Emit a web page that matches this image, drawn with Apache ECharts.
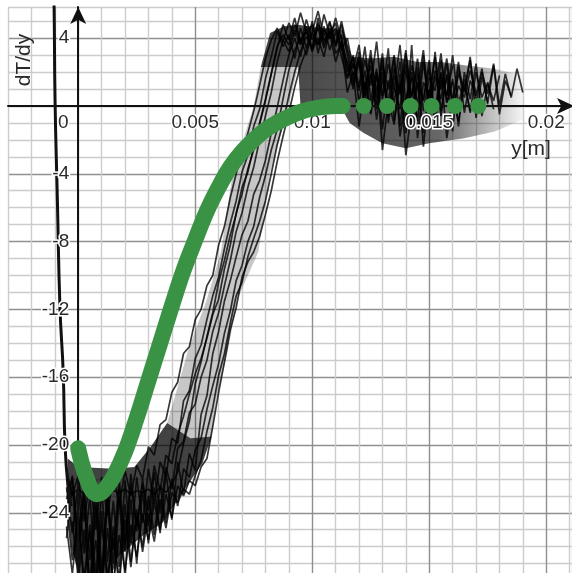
<!DOCTYPE html>
<html><head><meta charset="utf-8">
<script src="https://cdn.jsdelivr.net/npm/echarts@6/dist/echarts.min.js"></script>
<style>html,body{margin:0;padding:0;background:#fff}#c{width:572px;height:573px}</style>
</head><body><div id="c"></div><script>
// ---------- data ----------
const xTickLabels = [0, 0.005, 0.01, 0.015, 0.02];
const yTickLabels = [4, -4, -8, -12, -16, -20, -24];

// green model curve
const greenX = [0, 0.0002, 0.0004, 0.0006, 0.0008, 0.001, 0.0012, 0.0015, 0.002, 0.0025, 0.003, 0.0035, 0.004, 0.0045, 0.005, 0.0055, 0.006, 0.0065, 0.007, 0.0075, 0.008, 0.0085, 0.009, 0.0095, 0.01, 0.0105, 0.011, 0.0113];
const greenY = [-20.2, -21.3, -22.1, -22.7, -22.9, -22.8, -22.5, -21.9, -20.4, -18.4, -16.2, -14.0, -11.8, -9.7, -7.9, -6.2, -4.8, -3.6, -2.7, -2.0, -1.4, -0.98, -0.63, -0.35, -0.16, -0.05, 0, 0];
const dotX = [0.0122, 0.0132, 0.0142, 0.0151, 0.0161, 0.0171];
const dotY = [0, 0, 0, 0, 0, 0];

// steep black curve near the wall
const wallX = [-0.00106, -0.00103, -0.00099, -0.00089, -0.00078, -0.00064, -0.00056, -0.00042, -0.0003];
const wallY = [7, 5.84, 0.35, -5.55, -11.86, -15.75, -20.1, -22.65, -23.6];

// measured traces (sampled x grid)
const traceX = [-0.0005,-0.00025,0,0.00025,0.0005,0.00075,0.001,0.00125,0.0015,0.00175,0.002,0.00225,0.0025,0.00275,0.003,0.00325,0.0035,0.00375,0.004,0.00425,0.0045,0.00475,0.005,0.00525,0.0055,0.00575,0.006,0.00625,0.0065,0.00675,0.007,0.00725,0.0075,0.00775,0.008,0.00825,0.0085,0.00875,0.009,0.00925,0.0095,0.00975,0.01,0.01025,0.0105,0.01075,0.011,0.01125,0.0115,0.01175,0.012,0.01225,0.0125,0.01275,0.013,0.01325,0.0135,0.01375,0.014,0.01425,0.0145,0.01475,0.015,0.01525,0.0155,0.01575,0.016,0.01625,0.0165,0.01675,0.017,0.01725,0.0175,0.01775,0.018,0.01825,0.0185,0.01875,0.019];
const trace1 = [-21.5,-23.0,-21.8,-24.5,-22.0,-25.0,-21.9,-24.2,-21.7,-23.6,-21.5,-23.0,-21.2,-22.0,-20.1,-20.6,-18.8,-18.5,-16.9,-16.3,-14.6,-14.2,-12.6,-12.0,-10.6,-10.0,-8.2,-7.1,-5.4,-4.0,-2.8,-1.6,-0.3,1.2,2.8,3.9,4.6,3.8,4.9,4.1,5.5,4.3,4.8,3.6,4.5,4.0,5.2,3.9,2.4,1.0,2.6,0.4,2.9,0.8,3.1,-0.6,2.2,0.9,3.3,-0.4,1.9,0.3,2.7,-1.1,1.5,0.6,2.4];
const trace2 = [-22.5,-25.2,-22.3,-26.4,-23.0,-27.8,-22.6,-26.9,-23.3,-27.2,-22.1,-25.8,-21.9,-24.6,-21.4,-23.5,-21.0,-21.8,-19.6,-19.9,-17.4,-16.8,-14.9,-14.1,-12.6,-11.2,-10.1,-8.4,-6.9,-5.6,-3.9,-2.9,-1.2,-0.2,1.6,2.9,4.4,3.5,4.2,2.8,4.6,3.4,5.0,3.1,4.7,3.3,4.4,2.9,1.6,3.0,0.2,2.1,-0.5,1.8,0.6,3.4,-0.9,1.3,-1.6,2.0,0.1,3.0,-0.7,1.8,0.4,2.5,-0.2,1.2,0.5,2.1,0.8];
const trace3 = [-24.0,-21.8,-26.0,-23.1,-28.5,-22.9,-28.1,-23.4,-27.0,-22.6,-26.3,-22.3,-25.1,-22.0,-24.8,-21.6,-24.0,-21.3,-22.6,-20.2,-19.8,-18.1,-17.6,-16.0,-15.0,-13.3,-12.2,-10.6,-9.1,-7.4,-6.3,-4.8,-3.6,-2.0,-0.6,0.8,2.6,3.9,3.2,4.5,3.6,5.1,3.9,4.6,3.4,4.9,3.7,4.2,2.0,2.9,1.1,3.5,0.3,2.2,-1.4,1.5,0.2,2.6,-0.8,3.6,-1.9,1.4,0.7,2.9,-0.6,1.9,0.3,2.6,-0.4,1.5,0.6,2.2,0.1];
const trace4 = [-23.6,-26.8,-24.0,-28.3,-24.7,-28.6,-23.9,-28.4,-24.8,-28.0,-23.5,-26.9,-24.2,-26.0,-23.0,-25.3,-22.4,-24.6,-22.0,-23.6,-21.4,-21.9,-20.3,-19.6,-17.9,-16.5,-15.2,-13.4,-12.1,-10.3,-9.4,-8.0,-7.1,-5.4,-4.1,-2.6,-1.4,0.4,2.1,3.3,4.0,3.0,4.4,5.6,4.1,5.0,3.5,4.8,3.0,1.4,2.7,-0.3,1.9,0.5,2.8,-1.0,1.1,-0.2,3.1,0.6,2.3,-2.4,0.9,-0.5,2.7,0.2,1.6,-1.2,2.0,0.4,2.5,-0.6,1.3,0.3,1.8];
const trace5 = [null,-24.5,-27.9,-25.0,-28.8,-25.6,-28.5,-24.9,-28.2,-25.3,-27.4,-24.7,-26.6,-24.1,-25.6,-23.4,-25.0,-22.9,-24.3,-22.4,-23.0,-22.1,-22.4,-21.3,-20.8,-18.9,-16.9,-15.1,-13.2,-11.9,-10.1,-9.2,-8.6,-7.7,-6.4,-5.0,-3.3,-1.8,-0.4,1.1,2.4,3.3,4.3,3.6,5.4,4.2,4.9,3.3,4.0,2.2,3.6,1.0,2.4,-0.8,1.6,0.2,2.9,-1.8,0.4,1.7,-0.9,2.6,0.1,3.2,-0.3,1.8,-1.5,2.3,0.8,2.9,-0.7,1.7,0.2,2.4,-0.5,1.5,0.6];
const trace6 = [-22.7,-22.9,-22.6,-22.9,-22.7,-22.8,-22.6,-22.9,-22.7,-22.8,-22.6,-22.9,-22.7,-22.8,-22.6,-22.9,-22.5,-22.8,-22.3,-21.6,-19.9,-18.6,-16.4,-15.1,-13.6,-12.2,-10.4,-9.1,-7.6,-6.4,-4.8,-3.9,-2.4,-1.1,0.3,1.9,3.4,4.8,3.9,5.2,3.7,4.4,3.2,4.9,3.8,4.3,2.6,3.8,1.7,2.5,0.9,2.7,1.2,3.8,0.4,2.5,1.0,3.6,0.2,2.4,1.1,3.3,0.0,2.1,1.0,2.8,0.3,1.9,0.9,2.7,0.2,2.0,0.7,2.5,0.0,1.9,0.5,2.2,0.8];
const trace7 = [-25.5,-22.4,-27.3,-22.8,-28.9,-23.6,-29.0,-22.5,-28.7,-23.0,-27.8,-23.2,-27.0,-22.7,-25.8,-22.5,-25.2,-21.6,-24.4,-21.0,-22.9,-20.5,-21.5,-18.2,-17.1,-14.6,-13.3,-11.5,-10.3,-8.9,-7.6,-6.8,-5.2,-4.4,-3.2,-1.6,-0.1,1.5,3.0,4.0,2.9,4.7,3.3,4.0,2.9,4.6,3.1,3.6,0.8,2.0,-1.2,1.4,-0.4,2.0,-2.6,0.3,-1.1,1.9,-2.9,-0.3,1.4,-1.6,1.0,-0.8,2.0,-1.9,0.5,-0.9,1.3,-0.3];
const trace8 = [-23.2,-21.9,-25.4,-22.4,-26.8,-22.1,-27.5,-22.8,-26.2,-22.0,-25.9,-21.7,-24.8,-22.3,-23.9,-21.2,-22.7,-20.6,-21.1,-19.4,-18.3,-17.0,-15.8,-14.9,-13.7,-12.3,-11.4,-9.6,-8.2,-6.3,-5.2,-3.7,-2.6,-1.0,0.4,1.9,3.5,4.2,3.6,4.8,3.9,4.5,3.3,5.2,3.6,4.1,4.6,3.4,2.6,1.2,3.2,0.6,1.9,-0.2,2.4,1.0,3.0,-1.2,2.1,0.5,2.8,-0.3,1.7,0.9,3.1,0.2,1.4];
const trace9 = [-24.8,-27.6,-24.2,-27.9,-25.1,-28.8,-24.6,-27.7,-25.5,-28.3,-24.4,-27.2,-23.8,-26.3,-24.0,-25.7,-23.2,-24.9,-22.8,-23.4,-22.6,-22.9,-21.8,-20.9,-19.2,-17.8,-15.9,-14.6,-12.8,-11.2,-10.4,-8.9,-7.8,-6.8,-5.6,-4.0,-2.3,-1.0,0.6,2.0,3.2,4.1,3.4,4.8,3.9,4.4,3.6,5.0,3.4,1.8,2.9,0.9,3.3,0.1,2.0,-0.6,1.8,0.7,2.5,-1.3,1.2,0.4,2.2,-0.9,1.9,0.6,3.0,0.1,1.6,-0.4,2.0,0.5,1.4,-0.2];

// envelopes of the dense trace cloud
const massBottom = [[-0.00045,-20.8],[0,-21.3],[0.0015,-21.4],[0.0024,-21.3],[0.0031,-20.1],[0.0038,-18.7],[0.0048,-19.6],[0.0057,-19.5],[0.0053,-21.1],[0.0045,-22.7],[0.0036,-24.6],[0.0028,-25.3],[0.0017,-26.6],[0.0012,-28.5],[0.0002,-28.5],[-0.0001,-27.0],[-0.0003,-26.0],[-0.00045,-24.0]];
const massRise = [[0.0038,-18.7],[0.0041,-17.3],[0.0047,-14.4],[0.0055,-11.4],[0.0061,-8.6],[0.0066,-4.0],[0.0075,0],[0.0078,2.3],[0.0094,2.3],[0.0087,-1.5],[0.0082,-3.9],[0.0077,-8.6],[0.0068,-11.4],[0.0064,-14.4],[0.0059,-17.3],[0.0057,-19.5],[0.0048,-19.6]];
const massTop = [[0.0078,2.3],[0.0082,4.3],[0.0088,4.7],[0.0094,4.8],[0.0104,4.6],[0.0113,4.5],[0.0117,2.9],[0.0125,2.8],[0.0135,2.9],[0.0145,2.6],[0.0155,2.6],[0.0165,2.4],[0.0178,2.2],[0.019,1.8],[0.019,-0.8],[0.0178,-1.5],[0.0165,-1.9],[0.015,-2.2],[0.014,-2.5],[0.013,-2.2],[0.0122,-1.6],[0.0116,-1.0],[0.0112,0.0],[0.0095,0.0],[0.0094,2.3]];

// ---------- chart ----------
const FONT = '"Liberation Sans", Arial, sans-serif';
const TXT = '#2a2a2a';
const GREEN = '#3a9245';
const MINOR = '#cccccc', MAJOR = '#8f8f8f';
const X = {min: -0.003, max: 0.0211, interval: 0.001};
const Y = {min: -28, max: 5.84, interval: 1};

const zip = (xs, ys) => ys.map((y, i) => (y == null ? null : [xs[i], y])).filter(p => p);
const traces = [trace1, trace2, trace3, trace4, trace5, trace6, trace7, trace8, trace9];

function polySeries(pts, fill) {
  return {
    type: 'custom', xAxisIndex: 0, yAxisIndex: 0, z: 1, silent: true,
    data: [[0, 0]],
    renderItem: (params, api) => ({
      type: 'polygon',
      shape: {points: pts.map(p => api.coord(p))},
      style: {fill: fill}
    })
  };
}

const chart = echarts.init(document.getElementById('c'), null, {renderer: 'canvas'});
const labelBase = {fontSize: 19, fontFamily: FONT, color: TXT, textBorderColor: '#fff', textBorderWidth: 3};

const series = [
  polySeries(massBottom, 'rgba(0,0,0,0.74)'),
  polySeries(massRise, 'rgba(0,0,0,0.22)'),
  polySeries(massTop, new echarts.graphic.LinearGradient(0, 0, 1, 0, [
    {offset: 0, color: 'rgba(0,0,0,0.74)'},
    {offset: 0.68, color: 'rgba(0,0,0,0.6)'},
    {offset: 1, color: 'rgba(0,0,0,0.04)'}
  ]))
];
traces.forEach(t => series.push({
  type: 'line', data: zip(traceX, t), symbol: 'none', z: 2, silent: true,
  lineStyle: {width: 1.7, color: '#000', opacity: 0.78}
}));
series.push({
  type: 'line', data: zip(wallX, wallY), smooth: true, symbol: 'none', z: 3, silent: true,
  lineStyle: {width: 3, color: '#111'}
});
series.push({
  type: 'line', data: zip(greenX, greenY), smooth: 0.4, symbol: 'none', z: 12, silent: true,
  lineStyle: {width: 16, color: GREEN, cap: 'round', join: 'round', opacity: 1}
});
series.push({
  type: 'scatter', data: zip(dotX, dotY), symbolSize: 16, z: 13, silent: true,
  itemStyle: {color: GREEN, opacity: 1}
});

const traceIdx = traces.map((t, i) => 3 + i);

function axisLineStyle(endOffset) {
  return {show: true, onZero: false, symbol: ['none', 'arrow'],
    symbolSize: [12, 17], symbolOffset: [0, endOffset], lineStyle: {color: '#111', width: 2}};
}

chart.setOption({
  animation: false,
  backgroundColor: '#fff',
  grid: {left: 8, top: 7, width: 564, height: 573.6, containLabel: false, outerBoundsMode: 'none'},
  visualMap: {
    type: 'continuous', show: false, dimension: 0, seriesIndex: traceIdx,
    min: 0.0155, max: 0.019,
    inRange: {color: ['#000000', '#d4d4d4']},
    outOfRange: {color: '#000000'}
  },
  xAxis: [
    {type: 'value', min: X.min, max: X.max, interval: X.interval, z: 0,
     axisLine: {show: false, onZero: false}, axisTick: {show: false}, axisLabel: {show: false},
     splitLine: {show: true, showMinLine: true, showMaxLine: true,
       lineStyle: {color: [MINOR, MINOR, MINOR, MAJOR, MINOR], width: 1.4}}},
    {type: 'value', position: 'bottom', offset: 0, min: X.min, max: X.max, interval: X.interval, z: 10,
     axisLine: axisLineStyle(2),
     axisTick: {show: false}, splitLine: {show: false},
     axisLabel: Object.assign({}, labelBase, {
       margin: 7,
       formatter: v => {
         const hit = xTickLabels.find(t => Math.abs(t - v) < 1e-9);
         if (hit === undefined) return '';
         return hit === 0 ? '{z|0}' : String(hit);
       },
       rich: {z: Object.assign({}, labelBase, {padding: [0, 30, 0, 0]})}
     })}
  ],
  yAxis: [
    {type: 'value', min: Y.min, max: Y.max, interval: Y.interval, z: 0,
     axisLine: {show: false, onZero: false}, axisTick: {show: false}, axisLabel: {show: false},
     splitLine: {show: true, showMinLine: true, showMaxLine: true,
       lineStyle: {color: [MAJOR, MINOR, MINOR, MINOR], width: 1.4}}},
    {type: 'value', position: 'left', offset: 0, min: Y.min, max: Y.max, interval: Y.interval, z: 10,
     axisLine: axisLineStyle(0),
     axisTick: {show: false}, splitLine: {show: false},
     axisLabel: Object.assign({}, labelBase, {
       margin: 9,
       formatter: v => (yTickLabels.some(t => Math.abs(t - v) < 1e-9) ? String(v) : '')
     })}
  ],
  graphic: [
    {type: 'text', x: 24, y: 60, rotation: Math.PI / 2, z: 20,
     style: {text: 'dT/dy', fontSize: 21, fontFamily: FONT, fill: TXT, align: 'center', verticalAlign: 'middle'}},
    {type: 'text', x: 531, y: 149, z: 20,
     style: {text: 'y[m]', fontSize: 21, fontFamily: FONT, fill: TXT, align: 'center', verticalAlign: 'middle'}}
  ],
  series: series
});

// move the visible axes onto the origin (using the chart's own scales)
const origin = chart.convertToPixel({xAxisIndex: 0, yAxisIndex: 0}, [0, 0]);
const gridBottom = chart.convertToPixel({yAxisIndex: 0}, Y.min);
const gridLeft = chart.convertToPixel({xAxisIndex: 0}, X.min);
chart.setOption({
  xAxis: [{}, {offset: -(gridBottom - origin[1])}],
  yAxis: [{}, {offset: -(origin[0] - gridLeft)}]
});
</script></body></html>
